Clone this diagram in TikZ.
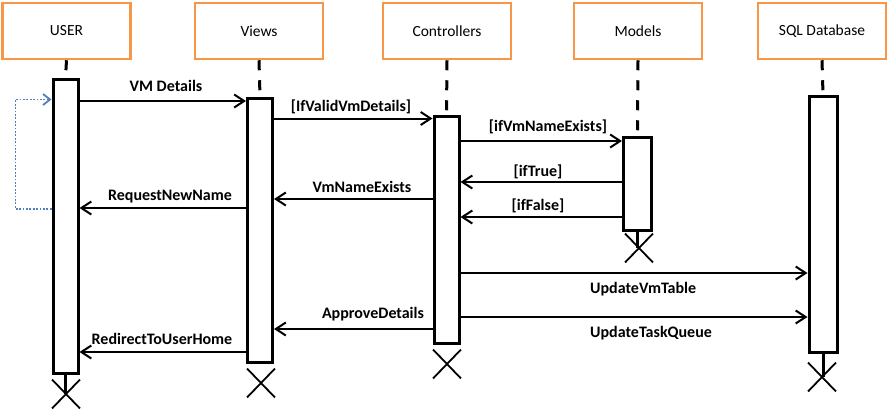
\documentclass[tikz,border=0pt]{standalone}
\usepackage{fontspec}
\setmainfont{Carlito}
\usetikzlibrary{arrows.meta,shapes.misc}
\definecolor{boxorange}{HTML}{F79646}
\definecolor{loopblue}{HTML}{4F7FBD}
\tikzset{
  actor/.style={draw=boxorange,line width=2.5pt,fill=white,minimum width=128pt,minimum height=56pt,inner sep=0pt,font=\fontsize{15.5}{18}\selectfont},
  actbar/.style={draw=black,line width=3pt,fill=white,inner sep=0pt,minimum width=25pt},
  lifeline/.style={line width=3pt,dash pattern=on 10pt off 10pt},
  stub/.style={line width=3pt},
  endx/.style={cross out,draw=black,line width=1.8pt,minimum width=26pt,minimum height=27pt,inner sep=0pt},
  msg/.style={line width=2pt,-{Straight Barb[length=10pt,width=13pt,line width=2pt]}},
  lbl/.style={font=\bfseries\fontsize{16}{19}\selectfont,inner sep=0pt},
  selfloop/.style={loopblue,line width=1.8pt,dash pattern=on 1.8pt off 1.6pt,-{Straight Barb[length=7pt,width=11pt,line width=1.8pt]}}
}
\begin{document}
\begin{tikzpicture}[x=1pt,y=-1pt]
\useasboundingbox (0,0) rectangle (888,410);
% actors
\node[actor] (user) at (66.5,31) {USER};
\node[actor] (views) at (259,31) {Views};
\node[actor] (ctrl) at (447,31) {Controllers};
\node[actor] (models) at (638,31) {Models};
\node[actor] (sql) at (822,31) {SQL Database};
% activation bars
\node[actbar,minimum height=294pt] (ubar) at (65.5,226) {};
\node[actbar,minimum height=264pt] (vbar) at (260,230) {};
\node[actbar,minimum height=227pt] (cbar) at (446.5,229.5) {};
\node[actbar,minimum height=93pt,minimum width=28pt] (mbar) at (637.5,183.5) {};
\node[actbar,minimum height=256pt,minimum width=28pt] (sbar) at (823,224) {};
% lifelines
\draw[lifeline] (user.south) -- (ubar.north);
\draw[lifeline] (views.south) -- (vbar.north);
\draw[lifeline] (ctrl.south) -- (cbar.north);
\draw[lifeline] (models.south) -- (mbar.north);
\draw[lifeline] (sql.south) -- (sbar.north);
% destruction marks
\node[endx] (ux) at (66,394) {};
\node[endx] (vx) at (261,383) {};
\node[endx] (cx) at (447,364) {};
\node[endx] (mx) at (639,248) {};
\node[endx] (sx) at (822,377) {};
\draw[stub] (ubar.south) -- (ubar.south |- ux.center);
\draw[stub] (mbar.south) -- (mbar.south |- mx.center);
\draw[stub] (sbar.south) -- (sbar.south |- sx.center);
% message heights
\coordinate (m1) at (0,101);
\coordinate (m2) at (0,118.5);
\coordinate (m3) at (0,141);
\coordinate (m4) at (0,182);
\coordinate (m5) at (0,199);
\coordinate (m6) at (0,208);
\coordinate (m7) at (0,217);
\coordinate (m8) at (0,273);
\coordinate (m9) at (0,317);
\coordinate (m10) at (0,329);
\coordinate (m11) at (0,352);
% messages
\draw[msg] (ubar.east |- m1) -- (vbar.west |- m1);
\draw[msg] (vbar.east |- m2) -- (cbar.west |- m2);
\draw[msg] (cbar.east |- m3) -- (mbar.west |- m3);
\draw[msg] (mbar.west |- m4) -- (cbar.east |- m4);
\draw[msg] (cbar.west |- m5) -- (vbar.east |- m5);
\draw[msg] (vbar.west |- m6) -- (ubar.east |- m6);
\draw[msg] (mbar.west |- m7) -- (cbar.east |- m7);
\draw[msg] (cbar.east |- m8) -- (sbar.west |- m8);
\draw[msg] (cbar.east |- m9) -- (sbar.west |- m9);
\draw[msg] (cbar.west |- m10) -- (vbar.east |- m10);
\draw[msg] (vbar.west |- m11) -- (ubar.east |- m11);
% self loop
\coordinate (lb) at (15.5,209);
\coordinate (lt) at (15.5,99.5);
\draw[selfloop] (ubar.west |- lb) -- (lb) -- (lt) -- (ubar.west |- lt);
% labels
\node[lbl] (l1) at (166,86) {VM Details};
\node[lbl] (l2) at (351,107) {[IfValidVmDetails]};
\node[lbl] (l3) at (548,127) {[ifVmNameExists]};
\node[lbl] (l4) at (538,172) {[ifTrue]};
\node[lbl] (l5) at (538,206) {[ifFalse]};
\node[lbl] (l6) at (362,187) {VmNameExists};
\node[lbl] (l7) at (170,197) {RequestNewName};
\node[lbl,anchor=west] (l8) at (590,289) {UpdateVmTable};
\node[lbl,anchor=west] (l9) at (590,333) {UpdateTaskQueue};
\node[lbl] (l10) at (373,314) {ApproveDetails};
\node[lbl] (l11) at (162,339) {RedirectToUserHome};
\end{tikzpicture}
\end{document}
